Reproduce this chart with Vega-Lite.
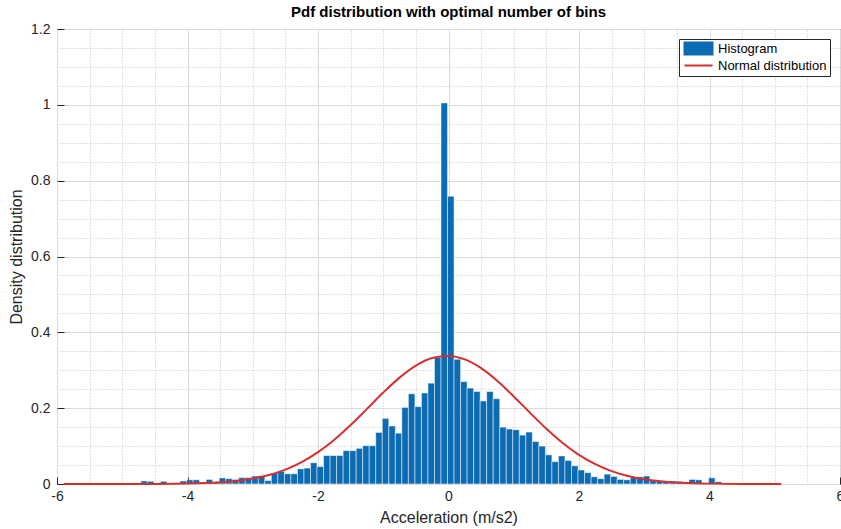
{
  "$schema": "https://vega.github.io/schema/vega-lite/v6.json",
  "width": 783,
  "height": 455,
  "autosize": {"type": "none"},
  "padding": {"left": 57, "top": 29, "right": 1, "bottom": 45},
  "background": "white",
  "config": {
    "font": "Liberation Sans",
    "view": {"stroke": "#2b2b2b", "strokeWidth": 1}
  },
  "title": {
    "text": "Pdf distribution with optimal number of bins",
    "fontSize": 15,
    "fontWeight": "bold",
    "color": "#000000",
    "font": "Liberation Sans",
    "anchor": "middle",
    "offset": 2
  },
  "datasets": {
    "hist": [
      {"lo": -4.715, "hi": -4.615, "density": 0.008},
      {"lo": -4.615, "hi": -4.515, "density": 0.007},
      {"lo": -4.415, "hi": -4.315, "density": 0.007},
      {"lo": -4.115, "hi": -4.015, "density": 0.008},
      {"lo": -4.015, "hi": -3.915, "density": 0.011},
      {"lo": -3.915, "hi": -3.815, "density": 0.011},
      {"lo": -3.815, "hi": -3.715, "density": 0.003},
      {"lo": -3.715, "hi": -3.615, "density": 0.012},
      {"lo": -3.615, "hi": -3.515, "density": 0.004},
      {"lo": -3.515, "hi": -3.415, "density": 0.016},
      {"lo": -3.415, "hi": -3.315, "density": 0.014},
      {"lo": -3.315, "hi": -3.215, "density": 0.012},
      {"lo": -3.215, "hi": -3.115, "density": 0.017},
      {"lo": -3.115, "hi": -3.015, "density": 0.017},
      {"lo": -3.015, "hi": -2.915, "density": 0.021},
      {"lo": -2.915, "hi": -2.815, "density": 0.022},
      {"lo": -2.815, "hi": -2.715, "density": 0.009},
      {"lo": -2.715, "hi": -2.615, "density": 0.029},
      {"lo": -2.615, "hi": -2.515, "density": 0.033},
      {"lo": -2.515, "hi": -2.415, "density": 0.027},
      {"lo": -2.415, "hi": -2.315, "density": 0.027},
      {"lo": -2.315, "hi": -2.215, "density": 0.040},
      {"lo": -2.215, "hi": -2.115, "density": 0.042},
      {"lo": -2.115, "hi": -2.015, "density": 0.056},
      {"lo": -2.015, "hi": -1.915, "density": 0.046},
      {"lo": -1.915, "hi": -1.815, "density": 0.075},
      {"lo": -1.815, "hi": -1.715, "density": 0.075},
      {"lo": -1.715, "hi": -1.615, "density": 0.075},
      {"lo": -1.615, "hi": -1.515, "density": 0.088},
      {"lo": -1.515, "hi": -1.415, "density": 0.088},
      {"lo": -1.415, "hi": -1.315, "density": 0.094},
      {"lo": -1.315, "hi": -1.215, "density": 0.101},
      {"lo": -1.215, "hi": -1.115, "density": 0.101},
      {"lo": -1.115, "hi": -1.015, "density": 0.136},
      {"lo": -1.015, "hi": -0.915, "density": 0.173},
      {"lo": -0.915, "hi": -0.815, "density": 0.153},
      {"lo": -0.815, "hi": -0.715, "density": 0.134},
      {"lo": -0.715, "hi": -0.615, "density": 0.202},
      {"lo": -0.615, "hi": -0.515, "density": 0.238},
      {"lo": -0.515, "hi": -0.415, "density": 0.204},
      {"lo": -0.415, "hi": -0.315, "density": 0.240},
      {"lo": -0.315, "hi": -0.215, "density": 0.266},
      {"lo": -0.215, "hi": -0.115, "density": 0.334},
      {"lo": -0.115, "hi": -0.015, "density": 1.005},
      {"lo": -0.015, "hi": 0.085, "density": 0.759},
      {"lo": 0.085, "hi": 0.185, "density": 0.329},
      {"lo": 0.185, "hi": 0.285, "density": 0.270},
      {"lo": 0.285, "hi": 0.385, "density": 0.253},
      {"lo": 0.385, "hi": 0.485, "density": 0.244},
      {"lo": 0.485, "hi": 0.585, "density": 0.219},
      {"lo": 0.585, "hi": 0.685, "density": 0.244},
      {"lo": 0.685, "hi": 0.785, "density": 0.225},
      {"lo": 0.785, "hi": 0.885, "density": 0.150},
      {"lo": 0.885, "hi": 0.985, "density": 0.145},
      {"lo": 0.985, "hi": 1.085, "density": 0.143},
      {"lo": 1.085, "hi": 1.185, "density": 0.129},
      {"lo": 1.185, "hi": 1.285, "density": 0.137},
      {"lo": 1.285, "hi": 1.385, "density": 0.112},
      {"lo": 1.385, "hi": 1.485, "density": 0.100},
      {"lo": 1.485, "hi": 1.585, "density": 0.077},
      {"lo": 1.585, "hi": 1.685, "density": 0.059},
      {"lo": 1.685, "hi": 1.785, "density": 0.074},
      {"lo": 1.785, "hi": 1.885, "density": 0.062},
      {"lo": 1.885, "hi": 1.985, "density": 0.048},
      {"lo": 1.985, "hi": 2.085, "density": 0.037},
      {"lo": 2.085, "hi": 2.185, "density": 0.030},
      {"lo": 2.185, "hi": 2.285, "density": 0.019},
      {"lo": 2.285, "hi": 2.385, "density": 0.014},
      {"lo": 2.385, "hi": 2.485, "density": 0.026},
      {"lo": 2.485, "hi": 2.585, "density": 0.020},
      {"lo": 2.585, "hi": 2.685, "density": 0.012},
      {"lo": 2.685, "hi": 2.785, "density": 0.011},
      {"lo": 2.785, "hi": 2.885, "density": 0.017},
      {"lo": 2.885, "hi": 2.985, "density": 0.019},
      {"lo": 2.985, "hi": 3.085, "density": 0.021},
      {"lo": 3.085, "hi": 3.185, "density": 0.009},
      {"lo": 3.185, "hi": 3.285, "density": 0.008},
      {"lo": 3.285, "hi": 3.385, "density": 0.008},
      {"lo": 3.385, "hi": 3.485, "density": 0.008},
      {"lo": 3.485, "hi": 3.585, "density": 0.007},
      {"lo": 3.585, "hi": 3.685, "density": 0.005},
      {"lo": 3.685, "hi": 3.785, "density": 0.012},
      {"lo": 3.785, "hi": 3.885, "density": 0.011},
      {"lo": 3.885, "hi": 3.985, "density": 0.002},
      {"lo": 3.985, "hi": 4.085, "density": 0.016},
      {"lo": 4.085, "hi": 4.185, "density": 0.006},
      {"lo": 4.185, "hi": 4.285, "density": 0.002}
    ],
    "pdf": [
      {"x": -5.9, "pdf": 0.0},
      {"x": -5.5, "pdf": 0.00001},
      {"x": -5.0, "pdf": 0.00005},
      {"x": -4.5, "pdf": 0.00026},
      {"x": -4.0, "pdf": 0.00118},
      {"x": -3.75, "pdf": 0.00235},
      {"x": -3.5, "pdf": 0.00448},
      {"x": -3.25, "pdf": 0.00817},
      {"x": -3.0, "pdf": 0.01424},
      {"x": -2.75, "pdf": 0.02372},
      {"x": -2.5, "pdf": 0.0378},
      {"x": -2.25, "pdf": 0.05758},
      {"x": -2.0, "pdf": 0.08389},
      {"x": -1.75, "pdf": 0.11683},
      {"x": -1.5, "pdf": 0.15556},
      {"x": -1.25, "pdf": 0.19806},
      {"x": -1.0, "pdf": 0.24109},
      {"x": -0.75, "pdf": 0.28059},
      {"x": -0.5, "pdf": 0.31222},
      {"x": -0.25, "pdf": 0.33218},
      {"x": 0.0, "pdf": 0.33789},
      {"x": 0.25, "pdf": 0.32862},
      {"x": 0.5, "pdf": 0.30557},
      {"x": 0.75, "pdf": 0.27167},
      {"x": 1.0, "pdf": 0.23094},
      {"x": 1.25, "pdf": 0.18767},
      {"x": 1.5, "pdf": 0.14583},
      {"x": 1.75, "pdf": 0.10834},
      {"x": 2.0, "pdf": 0.07695},
      {"x": 2.25, "pdf": 0.05226},
      {"x": 2.5, "pdf": 0.03394},
      {"x": 2.75, "pdf": 0.02106},
      {"x": 3.0, "pdf": 0.01251},
      {"x": 3.25, "pdf": 0.0071},
      {"x": 3.5, "pdf": 0.00385},
      {"x": 3.75, "pdf": 0.002},
      {"x": 4.0, "pdf": 0.00099},
      {"x": 4.5, "pdf": 0.00021},
      {"x": 5.1, "pdf": 0.00003}
    ]
  },
  "layer": [
    {
      "data": {"name": "hist"},
      "mark": {"type": "bar", "stroke": "#ffffff", "strokeWidth": 0.7, "strokeOpacity": 0.7, "opacity": 1},
      "encoding": {
        "x": {
          "field": "lo",
          "type": "quantitative",
          "scale": {"domain": [-6, 6], "nice": false, "zero": false},
          "axis": {
            "orient": "bottom",
            "values": [-6, -4, -2, 0, 2, 4, 6],
            "labelExpr": "'' + datum.value",
            "labelFlush": false,
            "labelOverlap": false,
            "labelFontSize": 14,
            "labelColor": "#262626",
            "tickSize": -7,
            "tickColor": "#262626",
            "labelPadding": 12,
            "domain": false,
            "grid": true,
            "gridColor": "#dadada",
            "title": "Acceleration (m/s2)",
            "titleFontSize": 16,
            "titleFontWeight": "normal",
            "titleColor": "#262626",
            "titlePadding": 6
          }
        },
        "x2": {"field": "hi"},
        "y": {
          "field": "density",
          "type": "quantitative",
          "scale": {"domain": [0, 1.2], "nice": false},
          "axis": {
            "orient": "left",
            "values": [0, 0.2, 0.4, 0.6, 0.8, 1, 1.2],
            "labelExpr": "'' + datum.value",
            "labelOverlap": false,
            "labelFontSize": 14,
            "labelColor": "#262626",
            "tickSize": -7,
            "tickColor": "#262626",
            "labelPadding": 14,
            "domain": false,
            "grid": true,
            "gridColor": "#dadada",
            "title": "Density distribution",
            "titleFontSize": 16,
            "titleFontWeight": "normal",
            "titleColor": "#262626",
            "titlePadding": 6
          }
        },
        "y2": {"datum": 0},
        "color": {
          "datum": "Histogram",
          "type": "nominal",
          "scale": {"domain": ["Histogram", "Normal distribution"], "range": ["#0b6bb3", "#d62f2f"]},
          "legend": {
            "title": null,
            "orient": "top-right",
            "offset": 10,
            "fillColor": "#ffffff",
            "strokeColor": "#262626",
            "padding": 3,
            "labelFontSize": 13,
            "labelColor": "#000000",
            "labelFont": "Liberation Sans",
            "rowPadding": -2,
            "symbolSize": 64,
            "symbolOffset": 10,
            "labelOffset": 13,
            "symbolStrokeWidth": 2,
            "encoding": {
              "symbols": {
                "shape": {"value": {"expr": "datum.value === 'Histogram' ? 'M-3.5,-1.5H3.5V1.5H-3.5Z' : 'M-3.5,0H3.5'"}},
                "fill": {"value": {"expr": "datum.value === 'Histogram' ? '#0b6bb3' : 'transparent'"}},
                "stroke": {"value": {"expr": "datum.value === 'Histogram' ? 'transparent' : '#d62f2f'"}},
                "strokeWidth": {"value": 2},
                "opacity": {"value": 1},
                "fillOpacity": {"value": 1}
              }
            }
          }
        }
      }
    },
    {
      "data": {"name": "pdf"},
      "mark": {"type": "line", "strokeWidth": 2, "interpolate": "monotone"},
      "encoding": {
        "x": {
          "field": "x",
          "type": "quantitative",
          "scale": {"domain": [-6, 6], "nice": false, "zero": false},
          "axis": {
            "orient": "top",
            "values": [-5.5, -5, -4.5, -3.5, -3, -2.5, -1.5, -1, -0.5, 0.5, 1, 1.5, 2.5, 3, 3.5, 4.5, 5, 5.5],
            "labels": false,
            "ticks": false,
            "domain": false,
            "grid": true,
            "gridDash": [1, 2],
            "gridColor": "#c4c4c4",
            "title": null
          }
        },
        "y": {
          "field": "pdf",
          "type": "quantitative",
          "scale": {"domain": [0, 1.2], "nice": false},
          "axis": {
            "orient": "right",
            "values": [0.05, 0.1, 0.15, 0.25, 0.3, 0.35, 0.45, 0.5, 0.55, 0.65, 0.7, 0.75, 0.85, 0.9, 0.95, 1.05, 1.1, 1.15],
            "labels": false,
            "ticks": false,
            "domain": false,
            "grid": true,
            "gridDash": [1, 2],
            "gridColor": "#c4c4c4",
            "title": null
          }
        },
        "color": {"datum": "Normal distribution", "type": "nominal"}
      }
    }
  ],
  "resolve": {"axis": {"x": "independent", "y": "independent"}}
}
